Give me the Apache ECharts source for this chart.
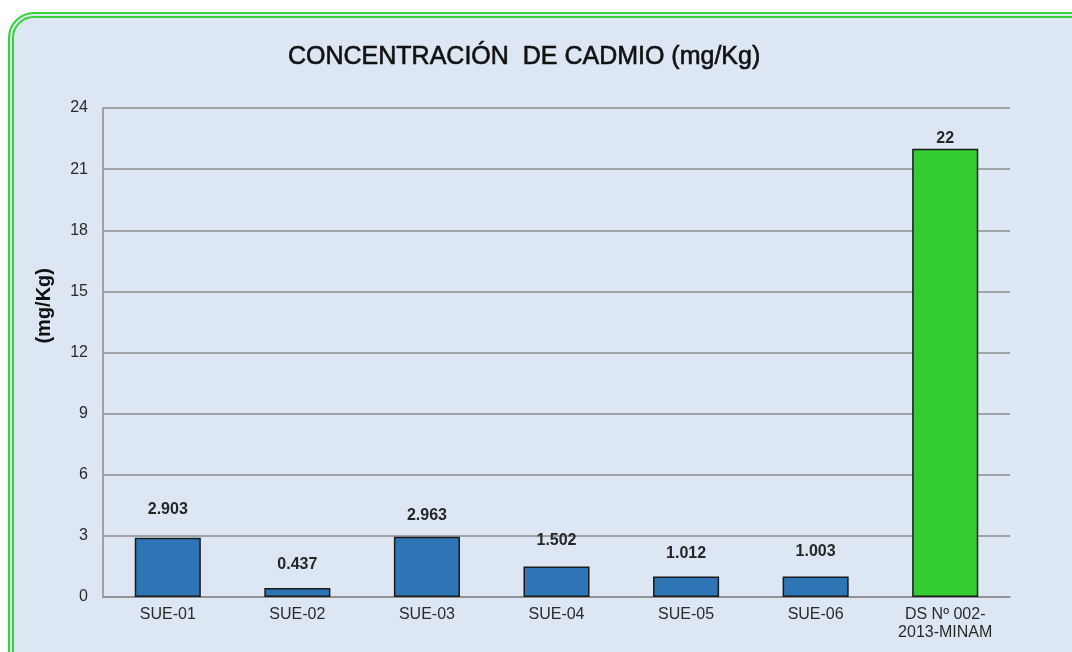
<!DOCTYPE html>
<html>
<head>
<meta charset="utf-8">
<script src="https://cdn.jsdelivr.net/npm/echarts@6/dist/echarts.min.js"></script>
<style>
  html, body { margin: 0; padding: 0; background: #ffffff; }
  #frame {
    position: absolute; left: 8px; top: 12px; width: 1090px; height: 670px;
    box-sizing: border-box; border: 6px double #36d236; border-radius: 26px;
    background: #dce7f3; overflow: hidden;
  }
  #chart { position: absolute; left: -14px; top: -18px; width: 1072px; height: 652px; }
</style>
</head>
<body>
<div id="frame"><div id="chart"></div></div>
<script>
// categorías y valores
var categorias = ['SUE-01', 'SUE-02', 'SUE-03', 'SUE-04', 'SUE-05', 'SUE-06', 'DS Nº 002-\n2013-MINAM'];
var valores = [2.903, 0.437, 2.963, 1.502, 1.012, 1.003, 22];
var etiquetas = ['2.903', '0.437', '2.963', '1.502', '1.012', '1.003', '22'];
var colores = ['#2e75b6', '#2e75b6', '#2e75b6', '#2e75b6', '#2e75b6', '#2e75b6', '#33cc33'];
var distEtiqueta = [20, 16, 13, 18, 15, 17, 2];

var datos = [];
for (var i = 0; i < valores.length; i++) {
    datos.push({
        value: valores[i],
        itemStyle: { color: colores[i] },
        label: { distance: distEtiqueta[i], formatter: etiquetas[i] }
    });
}

var chart = echarts.init(document.getElementById('chart'));
var option = {
    backgroundColor: 'transparent',
    animation: false,
    title: {
        text: 'CONCENTRACIÓN  DE CADMIO (mg/Kg)',
        left: 283, top: 40,
        textStyle: {
            fontFamily: 'Liberation Sans', fontSize: 25, fontWeight: 'normal', color: '#111',
            textBorderColor: '#111', textBorderWidth: 0.6
        }
    },
    // título del eje Y (girado)
    graphic: [{
        type: 'text',
        left: 34, top: 268,
        rotation: Math.PI / 2,
        style: {
            text: '(mg/Kg)',
            font: 'bold 20px "Liberation Sans"',
            fill: '#111'
        }
    }],
    grid: { left: 103, right: 62, top: 108, bottom: 55 },
    xAxis: {
        type: 'category',
        data: categorias,
        axisLine: { lineStyle: { color: '#8c8c8c', width: 1.5 } },
        axisTick: { show: false },
        axisLabel: { fontFamily: 'Liberation Sans', fontSize: 16, color: '#2a2a2a', margin: 9, lineHeight: 18, interval: 0 }
    },
    yAxis: {
        type: 'value',
        min: 0, max: 24, interval: 3,
        axisLine: { show: true, lineStyle: { color: '#8c8c8c', width: 1.5 } },
        axisTick: { show: false },
        axisLabel: { fontFamily: 'Liberation Sans', fontSize: 16, color: '#2a2a2a', margin: 15 },
        splitLine: { lineStyle: { color: '#8c8c8c', width: 1.5 } }
    },
    series: [{
        type: 'bar',
        data: datos,
        barWidth: '51%',
        itemStyle: { borderColor: '#1a1a1a', borderWidth: 1.5 },
        label: {
            show: true, position: 'top',
            fontFamily: 'Liberation Sans', fontSize: 16, fontWeight: 'bold', color: '#262626'
        }
    }]
};
chart.setOption(option);
</script>
</body>
</html>
